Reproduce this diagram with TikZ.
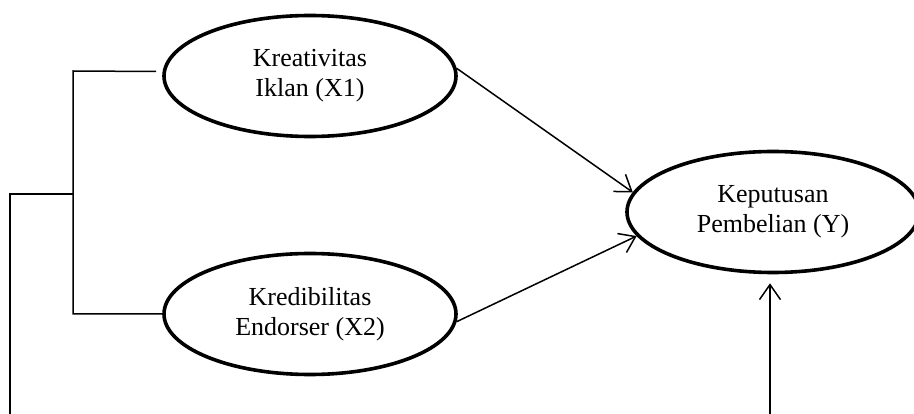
\documentclass[tikz,border=0pt]{standalone}
\usepackage{fontspec}
\setmainfont{Liberation Serif}
\usetikzlibrary{shapes.geometric,arrows.meta,calc}
\tikzset{
  var/.style={draw, ellipse, line width=3.6pt, minimum width=292pt, minimum height=121pt,
    inner sep=0pt, align=center, font=\fontsize{26pt}{30pt}\selectfont},
  conn/.style={line width=1.5pt},
  arr/.style={conn, -{Straight Barb[length=15pt,width=21pt,line width=1.5pt]}}
}
\begin{document}
\begin{tikzpicture}[x=1pt,y=-1pt]
\useasboundingbox (0,0) rectangle (914,414);
\node[var] (X1) at (310,76) {Kreativitas\\Iklan (X1)};
\node[var] (X2) at (310,314) {Kredibilitas\\Endorser (X2)};
\node[var] (Y) at (773,212) {Keputusan\\Pembelian (Y)};
% left bracket
\coordinate (a1) at ($(X1.west)+(-6,-4.5)$);
\coordinate (t1) at (73,71);
\coordinate (j) at (73,194);
\coordinate (l) at (10,194);
\coordinate (lb) at (10,416);
\draw[conn] (a1) -- (t1) |- (X2.west);
\draw[conn] (j) -- (l) -- (lb);
% arrows
\draw[arr] (X1.3) -- (Y.172);
\draw[arr] (X2.-3) -- (Y.190);
\coordinate (rb) at (770,416);
\draw[arr, shorten >=9pt] (rb) -- (rb |- Y.south);
\end{tikzpicture}
\end{document}
